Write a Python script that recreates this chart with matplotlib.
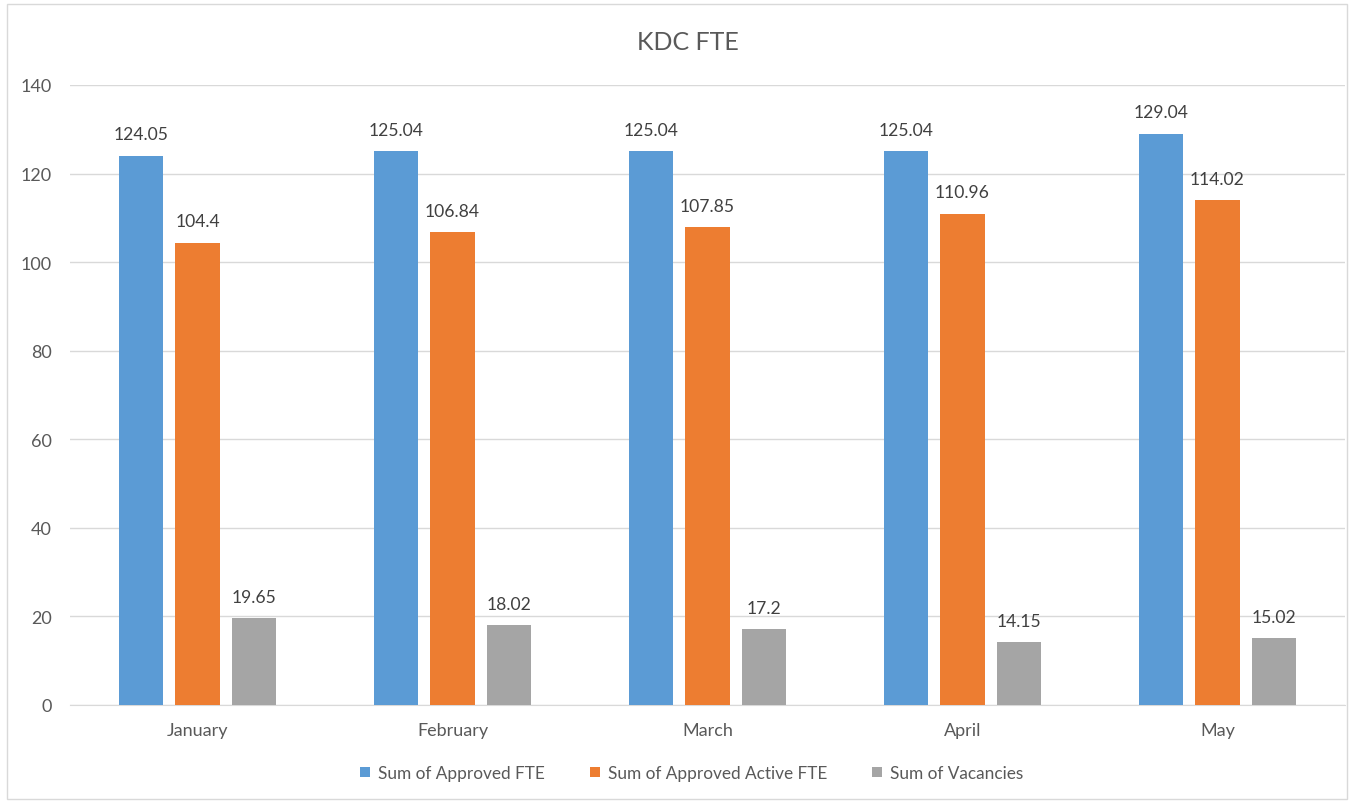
import matplotlib.pyplot as plt
from matplotlib.patches import Rectangle
import numpy as np

months = ["January", "February", "March", "April", "May"]
approved_fte = [124.05, 125.04, 125.04, 125.04, 129.04]
approved_active_fte = [104.4, 106.84, 107.85, 110.96, 114.02]
vacancies = [19.65, 18.02, 17.2, 14.15, 15.02]
series_names = ["Sum of Approved FTE", "Sum of Approved Active FTE", "Sum of Vacancies"]
colors = ["#5B9BD5", "#ED7D31", "#A5A5A5"]
yticks = [0, 20, 40, 60, 80, 100, 120, 140]

TEXT = "#595959"
plt.rcParams["font.family"] = ["Lato", "DejaVu Sans"]

fig = plt.figure(figsize=(13.51, 8.03), dpi=100)
ax = fig.add_axes([70 / 1351, 97 / 803, 1275 / 1351, 620 / 803])

x = np.arange(len(months))
width = 0.173
offsets = [-0.22, 0.0, 0.22]
all_series = [approved_fte, approved_active_fte, vacancies]

for vals, off, col, name in zip(all_series, offsets, colors, series_names):
    bars = ax.bar(x + off, vals, width, color=col, label=name, zorder=3)
    for rect, v in zip(bars, vals):
        ax.text(rect.get_x() + rect.get_width() / 2, v + 3.0, f"{v:g}",
                ha="center", va="bottom", fontsize=12.6, color="#404040")

ax.set_xlim(-0.5, len(months) - 0.5)
ax.set_ylim(0, 140)
ax.set_yticks(yticks)
ax.set_xticks(x)
ax.set_xticklabels(months)
ax.yaxis.grid(True, color="#D9D9D9", linewidth=1, zorder=0)
for side in ["top", "right", "left"]:
    ax.spines[side].set_visible(False)
ax.spines["bottom"].set_color("#D9D9D9")
ax.tick_params(axis="both", length=0, labelsize=13, colors=TEXT)
ax.tick_params(axis="x", pad=12)
ax.tick_params(axis="y", pad=13)

fig.text(688 / 1351, 1 - 43 / 803, "KDC FTE", ha="center", va="center",
         fontsize=18, color=TEXT)

leg = fig.legend(loc="center", bbox_to_anchor=(692 / 1351, 1 - 774 / 803), ncol=3,
                 frameon=False, fontsize=12.4, handlelength=0.55, handleheight=0.55,
                 handletextpad=0.5, columnspacing=2.6)
for t in leg.get_texts():
    t.set_color(TEXT)

fig.patches.append(Rectangle((7 / 1351, 3 / 803), 1340 / 1351, 795 / 803,
                             transform=fig.transFigure, fill=False,
                             edgecolor="#D9D9D9", linewidth=1))

fig.savefig("out.png", dpi=100)
